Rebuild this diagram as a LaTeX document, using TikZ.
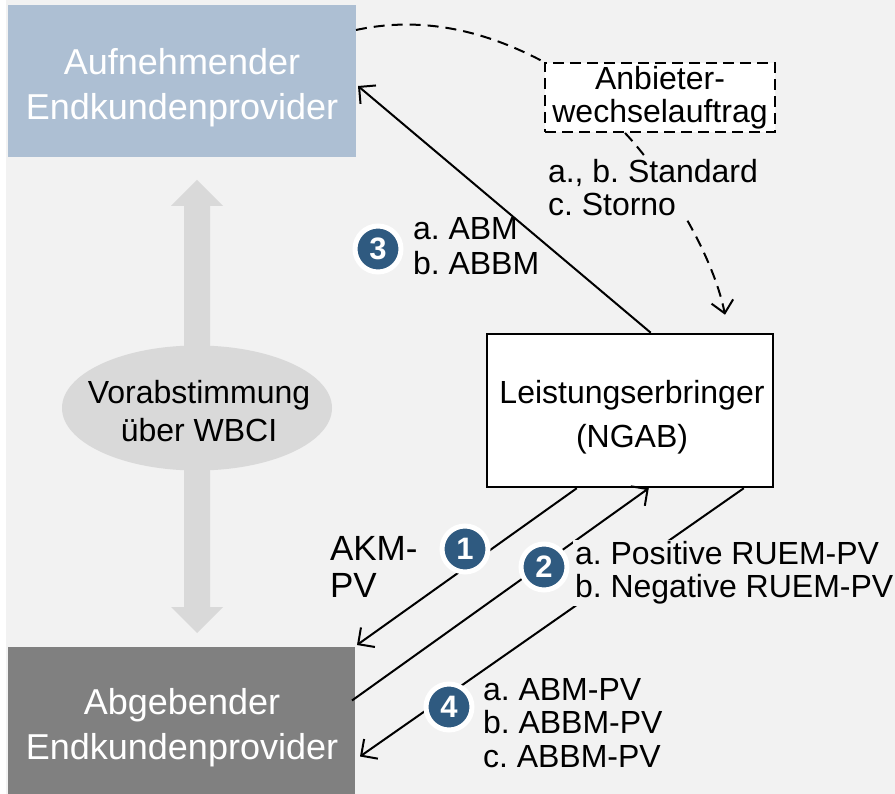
\documentclass[tikz,border=0pt]{standalone}
\usepackage{fontspec}
\setmainfont{Liberation Sans}
\usetikzlibrary{arrows.meta,shapes.geometric,calc}
\definecolor{bg}{HTML}{F2F2F2}
\definecolor{topbox}{HTML}{ADBFD3}
\definecolor{botbox}{HTML}{808080}
\definecolor{lgray}{HTML}{D9D9D9}
\definecolor{badgeblue}{HTML}{2F5A80}
\frenchspacing
\tikzset{
  bigbox/.style={rectangle, inner sep=0pt, outer sep=0pt},
  bigtext/.style={inner sep=0pt, text=white, align=center,
    font=\fontsize{36pt}{45pt}\selectfont},
  lbl/.style={inner sep=0pt, outer sep=0pt, align=left, anchor=west,
    font=\fontsize{32pt}{33pt}\selectfont},
  badge/.style={circle, fill=badgeblue, draw=white, line width=5pt, minimum size=46pt,
    inner sep=0pt, text=white, font=\fontsize{31pt}{31pt}\selectfont\bfseries},
  conn/.style={line width=2pt, -{Straight Barb[length=12pt,width=24pt]}},
  dconn/.style={line width=2pt, dash pattern=on 11pt off 7pt},
}
\begin{document}
\begin{tikzpicture}[x=1pt,y=-1pt]
\useasboundingbox (0,0) rectangle (895,794);
\fill[white] (0,0) rectangle (895,794);
\fill[bg] (6,0) rectangle (895,794);

% double arrow and ellipse
\fill[lgray] (197,180) -- (223,206) -- (210,206) -- (210,607) -- (223,607) -- (197,633)
  -- (171,607) -- (184,607) -- (184,206) -- (171,206) -- cycle;
\fill[lgray] (197,408) ellipse [x radius=135pt, y radius=62.5pt];
\node (ell) [inner sep=0pt, align=center, font=\fontsize{32pt}{38pt}\selectfont]
  at (199,411) {Vorabstimmung\\über WBCI};

% main boxes
\node (auf) [bigbox, fill=topbox, minimum width=348pt, minimum height=152pt] at (182,81) {};
\node (aufT) [bigtext] at (182,88) {Aufnehmender\\Endkundenprovider};
\node (abg) [bigbox, fill=botbox, minimum width=347pt, minimum height=147pt] at (181.5,720.5) {};
\node (abgT) [bigtext] at (182,728) {Abgebender\\Endkundenprovider};
\node (le) [rectangle, fill=white, draw=black, line width=2.5pt, minimum width=286pt,
  minimum height=153pt, inner sep=0pt] at (630,410.5) {};
\node (leT) [inner sep=0pt, align=center, font=\fontsize{32pt}{44pt}\selectfont]
  at (632,417) {Leistungserbringer\\(NGAB)};
\node (anb) [rectangle, fill=white, draw=black, line width=2pt, dash pattern=on 11pt off 6pt,
  minimum width=230pt, minimum height=69pt, inner sep=0pt, align=center,
  font=\fontsize{32pt}{33pt}\selectfont] at (660,97.5) {Anbieter-\\wechselauftrag};

% coordinates
\coordinate (dTip) at ([xshift=95pt,yshift=18pt]le.north);

% dashed curve from auf to anb
\draw[dconn] ([yshift=51pt]auf.east) .. controls (430,14) and (495,36) .. (anb.north west);
% dashed arrow from anb to le
\draw[dconn, -{Straight Barb[length=12pt,width=22pt]}] ([xshift=-35pt]anb.south)
  .. controls (660,170) and (712,250) .. (dTip);

% arrow 3
\draw[conn] ([xshift=165pt]le.north west) -- ([yshift=-5pt,xshift=2pt]auf.east);
% arrow 1
\draw[conn] ([xshift=91pt]le.south west) -- ([xshift=2pt,yshift=2pt]abg.north east);
% arrow 2
\draw[conn] ([yshift=20pt,xshift=-3pt]abg.east) -- ([xshift=163pt]le.south west);
% arrow 4
\draw[conn] ([xshift=258pt]le.south west) -- ([xshift=5pt,yshift=-36pt]abg.east);

% labels
\node (lstd) [lbl, fill=bg, inner sep=2pt] at (546,188) {a., b. Standard\\c. Storno};
\node (l3) [lbl, font=\fontsize{32pt}{35pt}\selectfont] at (413,246) {a. ABM\\b. ABBM};
\node (lakm) [lbl, font=\fontsize{35pt}{37pt}\selectfont] at (330,567) {AKM-\\PV};
\node (l2) [lbl, fill=bg, inner sep=2pt] at (573,573) {a. Positive RUEM-PV\\b. Negative RUEM-PV};
\node (l4) [lbl, font=\fontsize{32pt}{33.5pt}\selectfont] at (483,723) {a. ABM-PV\\b. ABBM-PV\\c. ABBM-PV};

% badges
\node (b3) [badge] at (378,249) {3};
\node (b1) [badge] at (465,549) {1};
\node (b2) [badge] at (544,567) {2};
\node (b4) [badge] at (449,707) {4};
\end{tikzpicture}
\end{document}
